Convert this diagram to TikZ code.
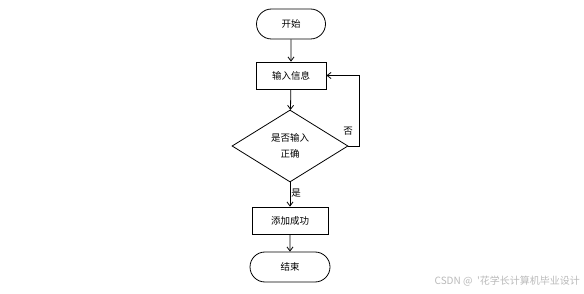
\documentclass[tikz,border=0pt]{standalone}
\usepackage{fontspec}
\setmainfont{Noto Sans CJK SC}
\usepackage{tikz}
\usetikzlibrary{arrows.meta,shapes.geometric,shapes.misc}

\begin{document}
\begin{tikzpicture}[x=1pt, y=-1pt, >={Straight Barb[length=4pt,width=6pt]},
  font=\fontsize{9.5}{11}\selectfont,
  term/.style={draw, thick, rounded rectangle, minimum width=69pt, minimum height=30pt, inner sep=0pt},
  box/.style={draw, thick, rectangle, minimum height=27pt, inner sep=0pt},
  cond/.style={draw, thick, diamond, minimum width=116pt, minimum height=72pt, inner sep=0pt, aspect=1.6},
  flow/.style={thick, ->}]
  \useasboundingbox (0,0) rectangle (584,294);
  \node[term] (start) at (291,24) {开始};
  \node[box, minimum width=70pt] (input) at (291,75.5) {输入信息};
  \node[cond, text width=60pt, align=center, font=\fontsize{9.5}{16}\selectfont] (check) at (290,146) {是否输入\\正确};
  \node[box, minimum width=76pt] (add) at (290,220.5) {添加成功};
  \node[term, minimum width=80pt] (stop) at (290,267) {结束};
  \coordinate (loop) at (359,146);
  \draw[flow] (start) -- (input);
  \draw[flow] (input) -- (check);
  \draw[flow] (check) -- node[right, pos=0.45, inner sep=1pt] {是} (add);
  \draw[flow] (add) -- (stop);
  \draw[flow] (check.east) -- (loop) |- (input.east);
  \node (no) at (348,131) {否};
  % watermark
  \node[gray!55, font=\fontsize{10}{12}\selectfont, anchor=east, inner sep=0pt] (mark) at (580,281) {CSDN @ \ \textquotesingle 花学长计算机毕业设计};
\end{tikzpicture}
\end{document}
